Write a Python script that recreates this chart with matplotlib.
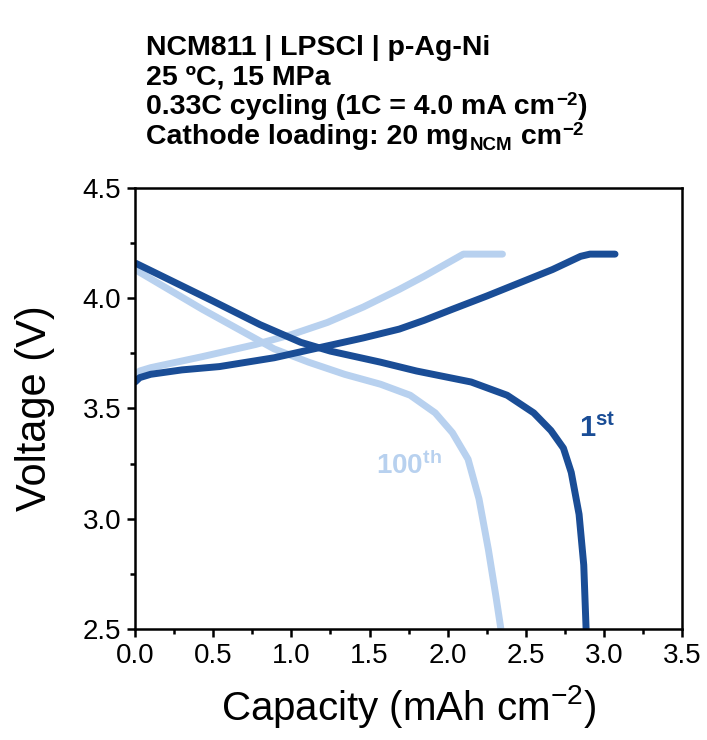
import matplotlib
matplotlib.use("Agg")
import matplotlib.pyplot as plt
from matplotlib.ticker import MultipleLocator

plt.rcParams['font.family'] = ['Liberation Sans', 'DejaVu Sans']
plt.rcParams['mathtext.fontset'] = 'custom'
plt.rcParams['mathtext.rm'] = 'Liberation Sans'
plt.rcParams['mathtext.bf'] = 'Liberation Sans:bold'
plt.rcParams['mathtext.it'] = 'Liberation Sans:italic'

# cycle 1 (dark) - charge and discharge
c1_charge_cap = [0.0, 0.03, 0.10, 0.30, 0.54, 0.89, 1.11, 1.46, 1.69, 1.85, 2.03, 2.25, 2.46, 2.67, 2.85, 2.91, 3.07]
c1_charge_v = [3.62, 3.64, 3.655, 3.675, 3.69, 3.73, 3.765, 3.82, 3.86, 3.90, 3.95, 4.01, 4.07, 4.13, 4.19, 4.20, 4.20]
c1_dis_cap = [0.0, 0.49, 0.80, 1.06, 1.25, 1.57, 1.80, 2.15, 2.38, 2.55, 2.66, 2.74, 2.79, 2.84, 2.87, 2.885]
c1_dis_v = [4.16, 3.99, 3.88, 3.80, 3.76, 3.71, 3.67, 3.62, 3.56, 3.48, 3.40, 3.32, 3.21, 3.02, 2.79, 2.50]

# cycle 100 (light)
c100_charge_cap = [0.0, 0.03, 0.10, 0.43, 0.77, 1.00, 1.23, 1.46, 1.69, 1.85, 2.10, 2.35]
c100_charge_v = [3.65, 3.67, 3.685, 3.735, 3.79, 3.835, 3.89, 3.96, 4.04, 4.10, 4.20, 4.20]
c100_dis_cap = [0.0, 0.43, 0.89, 1.11, 1.34, 1.57, 1.76, 1.92, 2.03, 2.13, 2.20, 2.26, 2.31, 2.34]
c100_dis_v = [4.13, 3.95, 3.77, 3.71, 3.655, 3.61, 3.56, 3.48, 3.39, 3.27, 3.09, 2.86, 2.64, 2.50]

dark = '#1a4d96'
light = '#b8d1ef'

fig = plt.figure(figsize=(7.07, 7.40), dpi=100)
ax = fig.add_axes([0.191, 0.15, 0.774, 0.596])

lw = 5
ax.plot(c100_charge_cap, c100_charge_v, color=light, lw=lw, solid_capstyle='round', solid_joinstyle='round')
ax.plot(c100_dis_cap, c100_dis_v, color=light, lw=lw, solid_capstyle='butt', solid_joinstyle='round')
ax.plot(c1_charge_cap, c1_charge_v, color=dark, lw=lw, solid_capstyle='round', solid_joinstyle='round')
ax.plot(c1_dis_cap, c1_dis_v, color=dark, lw=lw, solid_capstyle='butt', solid_joinstyle='round')

ax.text(2.84, 3.41, r'1$^{\mathbf{st}}$', color=dark, fontsize=21, fontweight='bold', va='center')
ax.text(1.54, 3.24, r'100$^{\mathbf{th}}$', color=light, fontsize=20, fontweight='bold', va='center')

ax.set_xlim(0, 3.5)
ax.set_ylim(2.5, 4.5)
ax.xaxis.set_major_locator(MultipleLocator(0.5))
ax.xaxis.set_minor_locator(MultipleLocator(0.25))
ax.yaxis.set_major_locator(MultipleLocator(0.5))
ax.yaxis.set_minor_locator(MultipleLocator(0.25))
ax.tick_params(which='major', direction='out', length=6, width=1.8, labelsize=20, pad=4)
ax.tick_params(which='minor', direction='out', length=3.5, width=1.8)
for s in ax.spines.values():
    s.set_linewidth(1.8)

ax.set_xlabel(r'Capacity (mAh cm$^{-2}$)', fontsize=29, labelpad=10)
ax.set_ylabel('Voltage (V)', fontsize=30, labelpad=20)

# header block: lines are lists of (text, kind) pieces, kind = '', 'sup' or 'sub'
header = [
    [('NCM811 | LPSCl | p-Ag-Ni', '')],
    [('25 ºC, 15 MPa', '')],
    [('0.33C cycling (1C = 4.0 mA cm', ''), ('\u22122', 'sup'), (')', '')],
    [('Cathode loading: 20 mg', ''), ('NCM', 'sub'), (' cm', ''), ('\u22122', 'sup')],
]
tx, ty0, dy = 0.207, 0.926, 0.0402
fs, fs_small = 20.5, 13.5
for i, pieces in enumerate(header):
    base = fig.text(tx, ty0 - i * dy, pieces[0][0], fontsize=fs, fontweight='bold',
                    va='baseline', ha='left')
    prev = base
    for txt, kind in pieces[1:]:
        if kind == 'sup':
            prev = plt.annotate(txt, xy=(1, 1), xycoords=(prev, base), xytext=(0.5, 1.5),
                                textcoords='offset points', fontsize=fs_small,
                                fontweight='bold', va='top', ha='left')
        elif kind == 'sub':
            prev = plt.annotate(txt, xy=(1, 0), xycoords=(prev, base), xytext=(0.5, -3),
                                textcoords='offset points', fontsize=fs_small,
                                fontweight='bold', va='bottom', ha='left')
        else:
            prev = plt.annotate(txt, xy=(1, 0), xycoords=(prev, base), xytext=(0.5, 0),
                                textcoords='offset points', fontsize=fs,
                                fontweight='bold', va='bottom', ha='left')

fig.savefig('out.png', dpi=100)
